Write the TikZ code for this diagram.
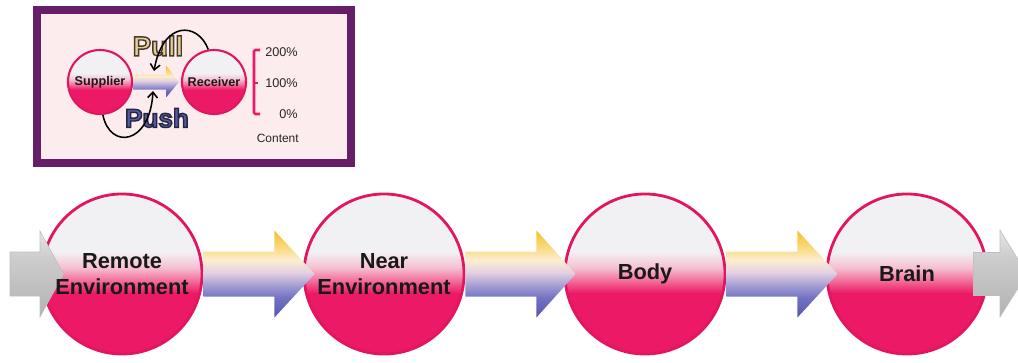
\documentclass[tikz,border=0pt]{standalone}
\usepackage{fontspec}
\setmainfont{Liberation Sans}
\usetikzlibrary{arrows.meta,calc}

\definecolor{cpink}{RGB}{236,26,102}
\definecolor{cpinkd}{RGB}{226,22,96}
\definecolor{cwhite}{RGB}{241,241,243}
\definecolor{bmidA}{RGB}{242,110,155}
\definecolor{bmidB}{RGB}{246,192,210}
\definecolor{framec}{RGB}{102,30,104}
\definecolor{insetbg}{RGB}{253,236,238}
\definecolor{pullc}{RGB}{228,205,150}
\definecolor{pushc}{RGB}{88,88,168}
\definecolor{aA}{RGB}{85,85,175}
\definecolor{aB}{RGB}{115,115,195}
\definecolor{aC}{RGB}{160,155,210}
\definecolor{aD}{RGB}{228,208,225}
\definecolor{aE}{RGB}{252,238,210}
\definecolor{aF}{RGB}{250,224,150}
\definecolor{aG}{RGB}{245,192,40}
\definecolor{gA}{RGB}{178,178,178}
\definecolor{gB}{RGB}{205,205,205}
\definecolor{gC}{RGB}{230,230,230}

% outlined text: fill colour from xcolor, stroke set by a literal
\newcommand{\outlined}[2]{\special{pdf:literal direct #1 RG 2 Tr 1.0 w}#2\special{pdf:literal direct 0 Tr}}

\pgfdeclareverticalshading{ballshade}{100bp}{color(0bp)=(cpink); color(44bp)=(cpink); color(48bp)=(bmidA); color(52bp)=(bmidB); color(57bp)=(cwhite); color(100bp)=(cwhite)}
\pgfdeclareverticalshading{arrowshade}{100bp}{color(0bp)=(aA); color(25bp)=(aA); color(36.5bp)=(aB); color(43bp)=(aC); color(51bp)=(aD); color(58bp)=(aE); color(63bp)=(aF); color(75bp)=(aG); color(100bp)=(aG)}
\pgfdeclareverticalshading{grayshade}{100bp}{color(0bp)=(gA); color(25bp)=(gA); color(60bp)=(gB); color(75bp)=(gC); color(100bp)=(gC)}

\begin{document}
\begin{tikzpicture}[x=0.025cm,y=-0.025cm,
  ball/.style={circle, draw=cpinkd, line width=2pt, shading=ballshade, minimum size=4cm, inner sep=0pt},
  sball/.style={circle, draw=cpinkd, line width=1.5pt, shading=ballshade, minimum size=1.6cm, inner sep=0pt, font=\bfseries\fontsize{9}{10}\selectfont, text=black!90},
  lbl/.style={font=\bfseries\fontsize{15.5}{18.4}\selectfont, align=center, text=black!90},
  carrow/.style={shading=arrowshade, draw=none},
  garrow/.style={shading=grayshade, draw=black!25, line width=0.4pt},
  loopline/.style={draw=black, line width=1.1pt, -{Straight Barb[length=4pt,width=7pt,line width=1.1pt]}},
  pct/.style={font=\fontsize{9}{10}\selectfont, text=black!85, anchor=east, inner sep=0pt},
  bigword/.style={inner sep=0pt},
]
\useasboundingbox (0,0) rectangle (1018,362);
\clip (0,0) rectangle (1018,362);

% ---------- inset ----------
\draw[draw=framec, line width=5.7pt, fill=insetbg] (37,10) rectangle (351,163);

\node[sball] (sup) at (100,82) {Supplier};
\node[sball] (rec) at (214,82) {Receiver};

\path[carrow] ($(sup.east)+(0,-7.5)$) -- ($(sup.east)+(33,-7.5)$) -- ($(sup.east)+(33,-16.5)$)
  -- ($(rec.west)+(-2,0)$) -- ($(sup.east)+(33,15.5)$) -- ($(sup.east)+(33,7.5)$)
  -- ($(sup.east)+(0,7.5)$) -- cycle;

\node[bigword, text=pullc, font=\bfseries\fontsize{19.5}{20}\selectfont] (pull) at (158,46) {\outlined{0.28 0.23 0.18}{Pull}};
\node[bigword, text=pushc, font=\bfseries\fontsize{18.5}{20}\selectfont] (push) at (157,118) {\outlined{0.15 0.15 0.25}{Push}};

\coordinate (pulltip) at (154,71);
\coordinate (pushtip) at (153,91);
\draw[loopline] (rec.100) .. controls (198,22) and (163,20) .. (pulltip);
\draw[loopline] (sup.-85) .. controls (110,150) and (150,145) .. (pushtip);

\draw[cpink, line width=1.8pt, rounded corners=1pt] (260,50) -- (254,50) -- (254,114) -- (260,114);
\draw[cpink, line width=1.8pt] (254,83) -- (258,83);

\node[pct] (p200) at (298,52) {200\%};
\node[pct] (p100) at (298,83) {100\%};
\node[pct] (p0) at (298,114) {0\%};
\node[pct, font=\fontsize{8.5}{10}\selectfont] (cont) at (299,138) {Content};

% ---------- main row ----------
\node[ball] (re) at (122,274) {};
\node[ball] (ne) at (384,274) {};
\node[ball] (bo) at (645,274) {};
\node[ball] (br) at (907,274) {};

\foreach \a/\b in {re/ne, ne/bo, bo/br} {
  \path[carrow] ($(\a.east)+(0,-22.5)$) -- ++(71,0) -- ++(0,-21) -- ($(\b.west)+(12,0)$)
    -- ($(\a.east)+(71,43.5)$) -- ++(0,-21) -- ($(\a.east)+(0,22.5)$) -- cycle;
}

\coordinate (in) at (10,274);
\path[garrow] ($(in)+(0,-22)$) -- ($(in)+(30,-22)$) -- ($(in)+(30,-43)$) -- ($(re.west)+(23,0)$)
  -- ($(in)+(30,43)$) -- ($(in)+(30,22)$) -- ($(in)+(0,22)$) -- cycle;

\coordinate (out) at (1027,274);
\path[garrow] ($(br.east)+(-15,-21.5)$) -- ($(out)+(-27,-21.5)$) -- ($(out)+(-27,-44)$) -- (out)
  -- ($(out)+(-27,43)$) -- ($(out)+(-27,21.5)$) -- ($(br.east)+(-15,21.5)$) -- cycle;

\node[lbl] (ret) at (re) {Remote\\Environment};
\node[lbl] (net) at (ne) {Near\\Environment};
\node[lbl] (bot) at (bo) {Body};
\node[lbl] (brt) at (br) {Brain};
\end{tikzpicture}
\end{document}
